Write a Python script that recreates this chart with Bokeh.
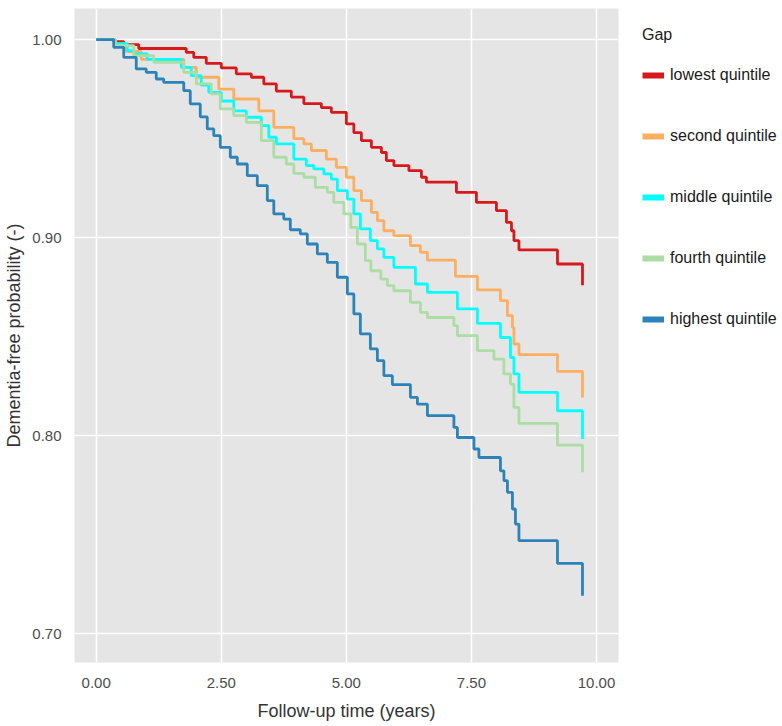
from bokeh.plotting import figure
from bokeh.models import Legend, LegendItem, FixedTicker, NumeralTickFormatter, Range1d, ColumnDataSource
from bokeh.embed import file_html
from bokeh.resources import INLINE

group_labels = ["lowest quintile", "second quintile", "middle quintile", "fourth quintile", "highest quintile"]
group_colors = ["#d7191c", "#fdae61", "#00ffff", "#abdda4", "#2b83ba"]

lowest_t = [0.00, 0.35, 0.55, 0.85, 1.80, 1.95, 2.20, 2.50, 2.80, 3.10, 3.35, 3.60, 3.90, 4.15, 4.50,
            4.70, 5.00, 5.15, 5.30, 5.50, 5.70, 5.80, 5.95, 6.25, 6.50, 6.60, 7.20, 7.60, 8.00, 8.20,
            8.30, 8.35, 8.45, 9.22, 9.72, 9.72]
lowest_s = [1.000, 0.9990, 0.9975, 0.9955, 0.9935, 0.9910, 0.9880, 0.9857, 0.9827, 0.9810, 0.9776, 0.9740,
            0.9710, 0.9677, 0.9657, 0.9633, 0.9574, 0.9530, 0.9490, 0.9456, 0.9430, 0.9389, 0.9364, 0.9338,
            0.9305, 0.9280, 0.9229, 0.9178, 0.9136, 0.9077, 0.9035, 0.8985, 0.8938, 0.8867, 0.8867, 0.8760]

second_t = [0.00, 0.38, 0.60, 0.90, 1.75, 2.00, 2.45, 2.75, 3.25, 3.55, 3.95, 4.15, 4.30, 4.60, 4.80,
            5.00, 5.15, 5.30, 5.50, 5.62, 5.75, 5.95, 6.28, 6.48, 6.62, 7.18, 7.62, 8.08, 8.22, 8.32,
            8.35, 8.45, 9.22, 9.72, 9.72]
second_s = [1.000, 0.9980, 0.9940, 0.9900, 0.9860, 0.9810, 0.9750, 0.9700, 0.9640, 0.9557, 0.9500, 0.9473,
            0.9440, 0.9397, 0.9355, 0.9305, 0.9237, 0.9187, 0.9128, 0.9086, 0.9035, 0.9010, 0.8960, 0.8926,
            0.8887, 0.8805, 0.8736, 0.8682, 0.8606, 0.8547, 0.8463, 0.8409, 0.8325, 0.8325, 0.8193]

middle_t = [0.00, 0.38, 0.62, 0.75, 1.02, 1.70, 1.90, 2.10, 2.25, 2.50, 2.75, 3.00, 3.30, 3.45, 3.60,
            3.95, 4.20, 4.35, 4.55, 4.70, 4.82, 5.02, 5.15, 5.28, 5.48, 5.62, 5.75, 5.95, 6.38, 6.62,
            7.22, 7.62, 8.08, 8.28, 8.35, 8.45, 9.22, 9.72, 9.72]
middle_s = [1.000, 0.9980, 0.9944, 0.9928, 0.9900, 0.9860, 0.9818, 0.9770, 0.9734, 0.9690, 0.9640, 0.9608,
            0.9566, 0.9507, 0.9473, 0.9397, 0.9364, 0.9347, 0.9322, 0.9296, 0.9237, 0.9195, 0.9120, 0.9044,
            0.8985, 0.8943, 0.8900, 0.8850, 0.8766, 0.8724, 0.8640, 0.8567, 0.8496, 0.8395, 0.8312, 0.8219,
            0.8126, 0.8126, 0.7983]

fourth_t = [0.00, 0.38, 0.75, 1.15, 1.75, 2.00, 2.30, 2.48, 2.75, 3.00, 3.30, 3.55, 3.80, 3.95, 4.15,
            4.38, 4.62, 4.75, 4.95, 5.09, 5.22, 5.38, 5.49, 5.69, 5.82, 5.95, 6.28, 6.48, 6.62, 7.15,
            7.22, 7.62, 7.95, 8.15, 8.28, 8.35, 8.45, 9.22, 9.72, 9.72]
fourth_s = [1.000, 0.9970, 0.9919, 0.9885, 0.9835, 0.9776, 0.9726, 0.9650, 0.9616, 0.9582, 0.9490, 0.9406,
            0.9372, 0.9325, 0.9305, 0.9254, 0.9229, 0.9178, 0.9120, 0.9052, 0.8968, 0.8884, 0.8833, 0.8791,
            0.8758, 0.8732, 0.8673, 0.8623, 0.8597, 0.8556, 0.8505, 0.8430, 0.8387, 0.8312, 0.8261, 0.8143,
            0.8062, 0.7953, 0.7953, 0.7815]

highest_t = [0.00, 0.35, 0.55, 0.80, 1.00, 1.20, 1.35, 1.75, 1.88, 2.08, 2.22, 2.35, 2.48, 2.68, 2.82,
             3.02, 3.22, 3.42, 3.55, 3.75, 3.88, 4.08, 4.22, 4.42, 4.62, 4.82, 5.02, 5.15, 5.28, 5.48,
             5.62, 5.75, 5.92, 6.28, 6.42, 6.62, 7.15, 7.22, 7.55, 7.65, 8.08, 8.15, 8.22, 8.32, 8.38,
             8.45, 9.22, 9.72, 9.72]
highest_s = [1.000, 0.9961, 0.9910, 0.9852, 0.9835, 0.9801, 0.9784, 0.9742, 0.9675, 0.9610, 0.9549, 0.9515,
             0.9456, 0.9406, 0.9372, 0.9313, 0.9263, 0.9187, 0.9120, 0.9094, 0.9040, 0.9019, 0.8968, 0.8918,
             0.8875, 0.8800, 0.8716, 0.8615, 0.8514, 0.8438, 0.8379, 0.8303, 0.8258, 0.8194, 0.8160, 0.8101,
             0.8042, 0.7991, 0.7933, 0.7890, 0.7823, 0.7773, 0.7714, 0.7630, 0.7554, 0.7470, 0.7355, 0.7355,
             0.7192]

x_ticks = [0.0, 2.5, 5.0, 7.5, 10.0]
y_ticks = [0.70, 0.80, 0.90, 1.00]

series = [(lowest_t, lowest_s), (second_t, second_s), (middle_t, middle_s),
          (fourth_t, fourth_s), (highest_t, highest_s)]

FONT = "Liberation Sans Narrow, Liberation Sans, Arial"

p = figure(frame_width=544, frame_height=654, output_backend="svg", toolbar_location=None,
           x_range=Range1d(-0.434, 10.44), y_range=Range1d(0.6855, 1.0157),
           min_border_left=74, min_border_right=164, min_border_top=8, min_border_bottom=60)

p.background_fill_color = "#e5e5e5"
p.border_fill_color = "white"
p.outline_line_color = None

p.xgrid.ticker = FixedTicker(ticks=x_ticks)
p.ygrid.ticker = FixedTicker(ticks=y_ticks)
p.xaxis.ticker = FixedTicker(ticks=x_ticks)
p.yaxis.ticker = FixedTicker(ticks=y_ticks)
p.xaxis.formatter = NumeralTickFormatter(format="0.00")
p.yaxis.formatter = NumeralTickFormatter(format="0.00")
for g in (p.xgrid, p.ygrid):
    g.grid_line_color = "white"
    g.grid_line_width = 1.6
for ax in (p.xaxis, p.yaxis):
    ax.axis_line_color = None
    ax.major_tick_line_color = None
    ax.minor_tick_line_color = None
    ax.major_label_text_font = FONT
    ax.major_label_text_font_size = "15px"
    ax.major_label_text_color = "#4d4d4d"
    ax.axis_label_text_font = FONT
    ax.axis_label_text_font_size = "18px"
    ax.axis_label_text_font_style = "normal"
    ax.axis_label_text_color = "#333333"
p.xaxis.axis_label = "Follow-up time (years)"
p.yaxis.axis_label = "Dementia-free probability (-)"
p.xaxis.major_label_standoff = 9
p.yaxis.major_label_standoff = 7
p.xaxis.axis_label_standoff = 10
p.yaxis.axis_label_standoff = 5

items = []
nan = float("nan")
for (t, s), c, lab in zip(series, group_colors, group_labels):
    src = ColumnDataSource(data=dict(t=t, s=s))
    p.step(x="t", y="s", source=src, mode="after", line_color=c, line_width=2.8)
    dummy = p.line(x=[nan, nan], y=[nan, nan], line_color=c, line_width=6)
    items.append(LegendItem(label=lab, renderers=[dummy]))

legend = Legend(items=items, location=(24, 333), title="Gap")
legend.title_text_font = FONT
legend.title_text_font_size = "16px"
legend.title_text_font_style = "normal"
legend.title_text_color = "#1a1a1a"
legend.title_standoff = 21
legend.label_text_font = FONT
legend.label_text_font_size = "16px"
legend.label_text_color = "#1a1a1a"
legend.glyph_width = 22
legend.glyph_height = 20
legend.label_height = 20
legend.spacing = 41
legend.label_standoff = 6
legend.padding = 0
legend.margin = 0
legend.background_fill_alpha = 0
legend.border_line_color = None
p.add_layout(legend, "right")

open("out.html", "w").write(file_html(p, INLINE))
